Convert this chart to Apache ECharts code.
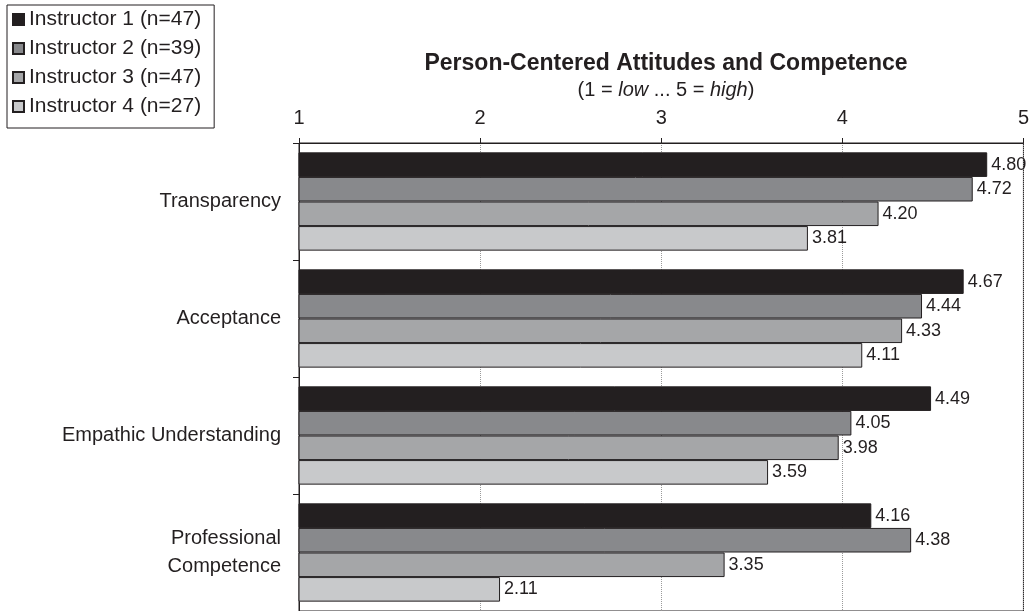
<!DOCTYPE html>
<html>
<head>
<meta charset="utf-8">
<script src="https://cdn.jsdelivr.net/npm/echarts@6/dist/echarts.min.js"></script>
<style>
  html, body { margin: 0; padding: 0; background: #fff; }
  #chart { width: 1032px; height: 611px; }
</style>
</head>
<body>
<div id="chart"></div>
<script>
  // data
  var categories = ['Transparency', 'Acceptance', 'Empathic Understanding', 'Professional\nCompetence'];
  var instructors = ['Instructor 1 (n=47)', 'Instructor 2 (n=39)', 'Instructor 3 (n=47)', 'Instructor 4 (n=27)'];
  var instructor1 = [4.80, 4.67, 4.49, 4.16];
  var instructor2 = [4.72, 4.44, 4.05, 4.38];
  var instructor3 = [4.20, 4.33, 3.98, 3.35];
  var instructor4 = [3.81, 4.11, 3.59, 2.11];
  var colors = ['#231f20', '#88898c', '#a5a6a8', '#c8c9cb'];

  var font = 'Liberation Sans, Arial, sans-serif';
  var ink = '#231f20';

  function barSeries(name, values, color) {
    return {
      name: name,
      type: 'bar',
      data: values,
      barGap: 0,
      barCategoryGap: '16%',
      itemStyle: {
        color: color,
        borderColor: ink,
        borderWidth: 1
      },
      label: {
        show: true,
        position: 'right',
        distance: 4,
        color: ink,
        fontFamily: font,
        fontSize: 18,
        formatter: function (p) { return p.value.toFixed(2); }
      }
    };
  }

  var chart = echarts.init(document.getElementById('chart'));
  var option = {
    backgroundColor: '#fff',
    animation: false,
    title: [{
      text: 'Person-Centered Attitudes and Competence',
      left: 661,
      textAlign: 'center',
      top: 47,
      textStyle: { fontFamily: font, fontSize: 23, fontWeight: 'bold', color: ink }
    }, {
      text: '(1 = {i|low} ... 5 = {i|high})',
      left: 661,
      textAlign: 'center',
      top: 75,
      textStyle: {
        fontFamily: font, fontSize: 20, fontWeight: 'normal', color: ink,
        rich: { i: { fontFamily: font, fontSize: 20, fontStyle: 'italic', color: ink } }
      }
    }],
    legend: {
      orient: 'vertical',
      left: 7,
      top: 5,
      padding: [4, 13, 11, 5],
      itemGap: 8,
      itemWidth: 11,
      itemHeight: 11,
      icon: 'rect',
      borderColor: ink,
      borderWidth: 1,
      backgroundColor: '#fff',
      textStyle: { fontFamily: font, fontSize: 21, color: ink },
      data: instructors
    },
    grid: {
      left: 299,
      right: 8,
      top: 143,
      bottom: -2,
      show: true,
      borderColor: ink,
      borderWidth: 1,
      containLabel: false
    },
    xAxis: {
      type: 'value',
      position: 'top',
      min: 1,
      max: 5,
      interval: 1,
      axisLine: { show: true, lineStyle: { color: ink, width: 1 } },
      axisTick: { show: true, length: 5, lineStyle: { color: ink } },
      axisLabel: { fontFamily: font, fontSize: 20, color: ink, margin: 15 },
      splitLine: { show: true, lineStyle: { color: '#9a9a9a', type: 'dotted', width: 1 } }
    },
    yAxis: {
      type: 'category',
      inverse: true,
      data: categories,
      axisLine: { show: true, lineStyle: { color: ink, width: 1 } },
      axisTick: { show: true, length: 6, lineStyle: { color: ink } },
      axisLabel: { fontFamily: font, fontSize: 20, color: ink, margin: 18, lineHeight: 28, align: 'right' },
      splitLine: { show: false }
    },
    series: [
      barSeries(instructors[0], instructor1, colors[0]),
      barSeries(instructors[1], instructor2, colors[1]),
      barSeries(instructors[2], instructor3, colors[2]),
      barSeries(instructors[3], instructor4, colors[3])
    ]
  };
  chart.setOption(option);
</script>
</body>
</html>
